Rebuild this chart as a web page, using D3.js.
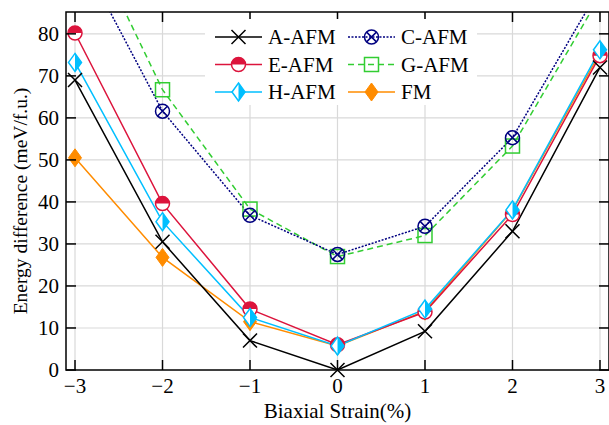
<!DOCTYPE html>
<html lang="en">
<head>
<meta charset="UTF-8">
<title>Energy difference vs biaxial strain</title>
<script src="https://d3js.org/d3.v7.min.js"></script>
<style>
  body { margin: 0; background: #fff; }
  text { font-family: "Liberation Serif", "Times New Roman", serif; fill: #000; }
</style>
</head>
<body>
<svg id="chart"></svg>
<script>
  // strain values (%)
  const strain = [-3, -2, -1, 0, 1, 2, 3];
  const xTicks = [-3, -2, -1, 0, 1, 2, 3];
  const yTicks = [0, 10, 20, 30, 40, 50, 60, 70, 80];

  // energy differences (meV/f.u.)
  const aAFM = [69, 30.5, 7, 0, 9.2, 33, 72];
  const cAFM = [101, 61.6, 36.8, 27.5, 34.2, 55.3, 91];
  const eAFM = [80.2, 39.6, 14.5, 6, 13.8, 37, 74.8];
  const gAFM = [110, 66.7, 38.3, 27, 32, 53.3, 89];
  const hAFM = [73.2, 35.3, 12.5, 5.7, 14.5, 38.1, 76.2];
  const fm = [50.5, 26.8, 11.5, 5.7, 14, 38, 75.5];

  const series = [
    { name: "FM", values: fm, color: "#ff8c00", dash: null, marker: "diamondFill" },
    { name: "A-AFM", values: aAFM, color: "#000000", dash: null, marker: "cross" },
    { name: "E-AFM", values: eAFM, color: "#dc143c", dash: null, marker: "halfCircle" },
    { name: "H-AFM", values: hAFM, color: "#00bfff", dash: null, marker: "halfDiamond" },
    { name: "G-AFM", values: gAFM, color: "#32cd32", dash: "6,4", marker: "square" },
    { name: "C-AFM", values: cAFM, color: "#000080", dash: "2,1.5", marker: "circleX" }
  ];
  const legendOrder = ["A-AFM", "C-AFM", "E-AFM", "G-AFM", "H-AFM", "FM"];

  const W = 609, H = 425;
  const margin = { top: 12, right: 0, bottom: 55, left: 66 };
  const width = W - margin.left - margin.right;
  const height = H - margin.top - margin.bottom;

  const svg = d3.select("#chart").attr("width", W).attr("height", H);
  const g = svg.append("g").attr("transform", "translate(" + margin.left + "," + margin.top + ")");

  const x = d3.scaleLinear().domain([-3.103, 3.103]).range([0, width]);
  const y = d3.scaleLinear().domain([0, 85.2]).range([height, 0]);

  // grid
  g.append("g").selectAll("line").data(xTicks).join("line")
    .attr("x1", d => x(d)).attr("x2", d => x(d)).attr("y1", 0).attr("y2", height)
    .attr("stroke", "#d9d9d9").attr("stroke-width", 1.2);
  g.append("g").selectAll("line").data(yTicks.slice(1)).join("line")
    .attr("x1", 0).attr("x2", width).attr("y1", d => y(d)).attr("y2", d => y(d))
    .attr("stroke", "#d9d9d9").attr("stroke-width", 1.2);

  // clip
  g.append("clipPath").attr("id", "clip").append("rect")
    .attr("x", 0).attr("y", 0).attr("width", width).attr("height", height);

  const line = d3.line().x((d, i) => x(strain[i])).y(d => y(d));

  function drawMarker(sel, type, color) {
    const r = 7;
    if (type === "cross") {
      sel.append("path").attr("d", `M${-r},${-r}L${r},${r}M${-r},${r}L${r},${-r}`)
        .attr("stroke", color).attr("stroke-width", 1.5).attr("fill", "none");
    } else if (type === "halfCircle") {
      sel.append("circle").attr("r", r).attr("fill", "#fff").attr("stroke", color).attr("stroke-width", 1.5);
      sel.append("path").attr("d", `M${-r},0A${r},${r} 0 0 1 ${r},0Z`).attr("fill", color);
    } else if (type === "halfDiamond") {
      const w = 6.5, h = 9;
      sel.append("path").attr("d", `M0,${-h}L${w},0L0,${h}L${-w},0Z`)
        .attr("fill", "#fff").attr("stroke", color).attr("stroke-width", 1.5);
      sel.append("path").attr("d", `M0,${-h}L${w},0L0,${h}Z`).attr("fill", color);
    } else if (type === "diamondFill") {
      const w = 6.5, h = 9;
      sel.append("path").attr("d", `M0,${-h}L${w},0L0,${h}L${-w},0Z`)
        .attr("fill", color).attr("stroke", color).attr("stroke-width", 1);
    } else if (type === "square") {
      sel.append("rect").attr("x", -r).attr("y", -r).attr("width", 2 * r).attr("height", 2 * r)
        .attr("fill", "none").attr("stroke", color).attr("stroke-width", 1.5);
    } else if (type === "circleX") {
      const k = r * 0.7;
      sel.append("circle").attr("r", r).attr("fill", "none").attr("stroke", color).attr("stroke-width", 1.5);
      sel.append("path").attr("d", `M${-k},${-k}L${k},${k}M${-k},${k}L${k},${-k}`)
        .attr("stroke", color).attr("stroke-width", 1.5);
    }
  }

  const plot = g.append("g").attr("clip-path", "url(#clip)");
  series.forEach(s => {
    plot.append("path").datum(s.values).attr("d", line)
      .attr("fill", "none").attr("stroke", s.color).attr("stroke-width", 1.5)
      .attr("stroke-dasharray", s.dash);
  });
  const mk = g.append("g");
  series.forEach(s => {
    s.values.forEach((v, i) => {
      if (v > 85.2) return;
      const m = mk.append("g").attr("transform", `translate(${x(strain[i])},${y(v)})`);
      drawMarker(m, s.marker, s.color);
    });
  });

  // frame
  g.append("rect").attr("x", 0).attr("y", 0).attr("width", width).attr("height", height)
    .attr("fill", "none").attr("stroke", "#000").attr("stroke-width", 1.5);

  // ticks, all pointing inward
  const tk = g.append("g").attr("stroke", "#000").attr("stroke-width", 1.5);
  xTicks.forEach(t => {
    tk.append("line").attr("x1", x(t)).attr("x2", x(t)).attr("y1", height).attr("y2", height - 10);
    tk.append("line").attr("x1", x(t)).attr("x2", x(t)).attr("y1", 0).attr("y2", 10);
  });
  yTicks.forEach(t => {
    tk.append("line").attr("x1", 0).attr("x2", 10).attr("y1", y(t)).attr("y2", y(t));
    tk.append("line").attr("x1", width).attr("x2", width - 10).attr("y1", y(t)).attr("y2", y(t));
  });

  // tick labels
  g.append("g").selectAll("text").data(xTicks).join("text")
    .attr("x", d => x(d)).attr("y", height + 23)
    .attr("text-anchor", "middle").style("font-size", "21px")
    .text(d => d < 0 ? "\u2212" + Math.abs(d) : d);
  g.append("g").selectAll("text").data(yTicks).join("text")
    .attr("x", -7).attr("y", d => y(d) + 7)
    .attr("text-anchor", "end").style("font-size", "21px")
    .text(d => d);

  // axis titles
  svg.append("text").attr("x", margin.left + x(0)).attr("y", 418)
    .attr("text-anchor", "middle").style("font-size", "21px").text("Biaxial Strain(%)");
  svg.append("text").attr("transform", "translate(27," + (margin.top + height / 2 + 10) + ") rotate(-90)")
    .attr("text-anchor", "middle").style("font-size", "19.5px").text("Energy difference (meV/f.u.)");

  // legend
  const lg = svg.append("g").attr("transform", "translate(205,19)");
  lg.append("rect").attr("x", 0).attr("y", 0).attr("width", 272).attr("height", 86).attr("fill", "#fff");
  legendOrder.forEach((name, i) => {
    const s = series.find(d => d.name === name);
    const col = i % 2, row = Math.floor(i / 2);
    const ex = col === 0 ? 10 : 143, ey = 18 + row * 27.5;
    const e = lg.append("g").attr("transform", `translate(${ex},${ey})`);
    e.append("line").attr("x1", 0).attr("x2", 47).attr("y1", 0).attr("y2", 0)
      .attr("stroke", s.color).attr("stroke-width", 1.5).attr("stroke-dasharray", s.dash);
    const m = e.append("g").attr("transform", "translate(23.5,0)");
    drawMarker(m, s.marker, s.color);
    e.append("text").attr("x", 53).attr("y", 7).style("font-size", "21px").text(name);
  });
</script>
</body>
</html>
